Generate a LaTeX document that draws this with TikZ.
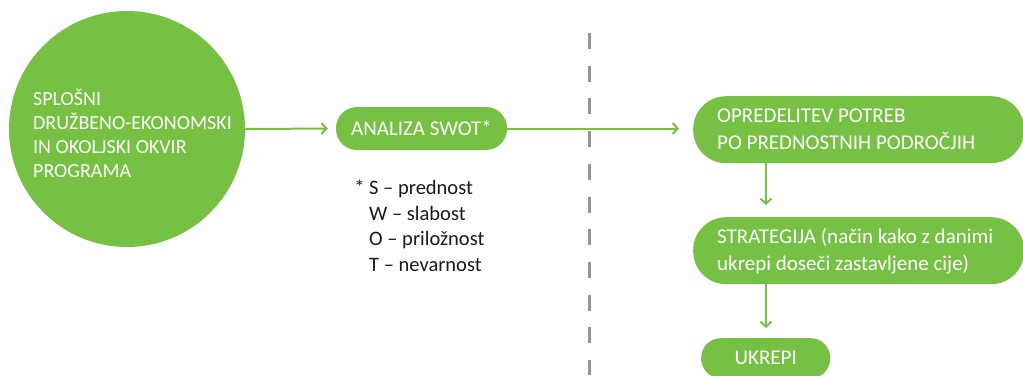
\documentclass[tikz,border=0pt]{standalone}
\usepackage{fontspec}
\setmainfont{Carlito}
\usetikzlibrary{positioning,calc,arrows.meta}
\definecolor{leafgreen}{RGB}{118,192,67}
\definecolor{dashgray}{RGB}{150,150,150}
\tikzset{
    every node/.style={font=\fontsize{20}{24}\selectfont},
    bigcircle/.style={circle, fill=leafgreen, minimum size=236pt, inner sep=0pt},
    pill/.style={fill=leafgreen, text=white, rounded corners=33pt, inner ysep=0pt,
                 font=\fontsize{21}{27}\selectfont},
    legend/.style={align=flush left, inner sep=0pt, text=black!90,
                   font=\fontsize{20.5}{25.8}\selectfont},
    arrow/.style={-{Straight Barb[length=5pt,width=11pt]}, line width=2pt, draw=leafgreen},
    divider/.style={line width=3pt, draw=dashgray, dash pattern=on 16pt off 16.7pt},
}
\begin{document}
\begin{tikzpicture}[x=1pt, y=-1pt, node distance=54pt]
\useasboundingbox (0,0) rectangle (1023,375);
% dashed separator between analysis and planning
\draw[divider] (589,33) -- (589,375);
% left part: framework and SWOT
\node[bigcircle] (frame) at (127,129) {};
\node[align=flush left, inner sep=0pt, text=white, anchor=west] (frametext) at (33,133)
    {SPLOŠNI\\DRUŽBENO-EKONOMSKI\\IN OKOLJSKI OKVIR\\PROGRAMA};
\node[pill, rounded corners=21pt, minimum width=171pt, minimum height=43pt] (swot) at (421.5,128.5) {ANALIZA SWOT*};
\node[legend, anchor=north west] (legend) at (369,179.5)
    {\llap{*\ }S – prednost\\W – slabost\\O – priložnost\\T – nevarnost};
% right part: needs, strategy, actions
\node[pill, anchor=north west, align=flush left, text width=283pt, inner xsep=24pt, minimum height=67pt] (needs) at (693,96)
    {OPREDELITEV POTREB\\PO PREDNOSTNIH PODROČJIH};
\node[pill, anchor=north west, align=flush left, text width=283pt, inner xsep=24pt, minimum height=67pt] (strategy) at (693,217)
    {STRATEGIJA (način kako z danimi\\ukrepi doseči zastavljene cije)};
\node[pill, rounded corners=19.5pt, anchor=north west, minimum width=129pt, minimum height=40pt] (actions) at (701,338) {UKREPI};
\draw[arrow, shorten >=8pt] (frame.east) -- (swot.west);
\draw[arrow, shorten >=14pt] (swot.east) -- (swot.east -| needs.west);
\draw[arrow, shorten >=12pt] ([xshift=73pt]needs.south west) -- ([xshift=73pt]strategy.north west);
\draw[arrow, shorten >=10pt] ([xshift=73pt]strategy.south west) -- ([xshift=73pt]strategy.south west |- actions.north);
\end{tikzpicture}
\end{document}
